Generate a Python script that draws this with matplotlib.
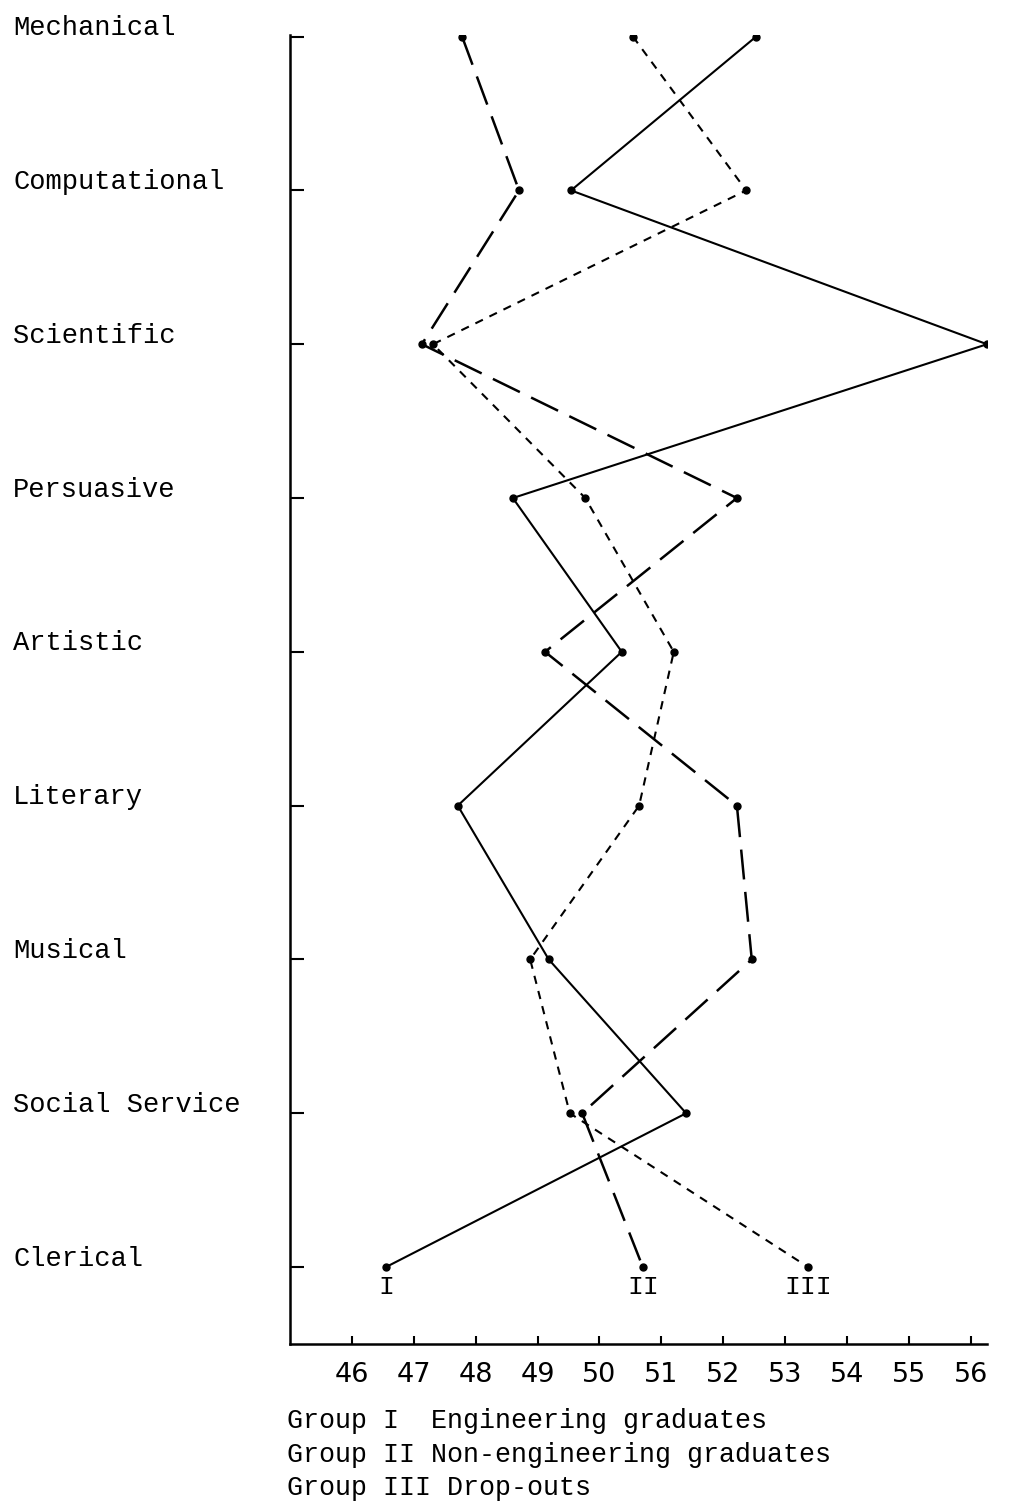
import matplotlib
matplotlib.use("Agg")
import matplotlib.pyplot as plt
from matplotlib.transforms import blended_transform_factory

# interest areas (top to bottom) and mean scores per group
areas = ["Mechanical", "Computational", "Scientific", "Persuasive", "Artistic",
         "Literary", "Musical", "Social Service", "Clerical"]
group1 = [52.53, 49.54, 56.26, 48.60, 50.36, 47.71, 49.18, 51.40, 46.55]
group2 = [47.78, 48.70, 47.13, 52.22, 49.12, 52.22, 52.46, 49.72, 50.70]
group3 = [50.54, 52.37, 47.31, 49.77, 51.20, 50.64, 48.88, 49.52, 53.37]
group_marks = ["I", "II", "III"]
xticks = list(range(46, 57))
legend_lines = ["Group I  Engineering graduates",
                "Group II Non-engineering graduates",
                "Group III Drop-outs"]

mono = "Liberation Mono"

fig = plt.figure(figsize=(10.13, 15.05), dpi=100)
ax = fig.add_axes([0.2863, 0.1070, 0.9743 - 0.2863, 0.9767 - 0.1070])

ypos = list(range(len(areas)))

ax.plot(group1, ypos, color="black", lw=1.5, ls="-",
        marker="o", ms=5)
ax.plot(group2, ypos, color="black", lw=1.8, ls=(0, (12, 5)),
        marker="o", ms=5)
ax.plot(group3, ypos, color="black", lw=1.5, ls=(0, (4, 3.5)),
        marker="o", ms=5)

# roman numerals under the clerical points
for val, lab in zip([group1[-1], group2[-1], group3[-1]], group_marks):
    ax.text(val, ypos[-1] + 0.13, lab, ha="center", va="center",
            fontsize=19, family=mono)

ax.set_xlim(45, 56.26)
ax.set_ylim(8.5, -0.01)

for s in ["top", "right"]:
    ax.spines[s].set_visible(False)
for s in ["left", "bottom"]:
    ax.spines[s].set_linewidth(1.8)

ax.set_xticks(xticks)
ax.set_xticklabels([str(t) for t in xticks], fontsize=19.5,
                   family="DejaVu Sans")
ax.tick_params(axis="x", direction="in", length=6, width=1.5, pad=13)
ax.set_yticks(ypos)
ax.set_yticklabels([])
ax.tick_params(axis="y", direction="in", length=10, width=1.5)

# category labels at the far left
tr = blended_transform_factory(fig.transFigure, ax.transData)
for y, name in zip(ypos, areas):
    ax.text(0.013, y - 0.055, name, transform=tr, ha="left", va="center",
            fontsize=19.5, family=mono, clip_on=False)

# legend text
for i, line in enumerate(legend_lines):
    fig.text(0.283, 1 - (1421 + 33.5 * i) / 1505, line, ha="left",
             va="center", fontsize=19.2, family=mono)

fig.savefig("out.png", dpi=100)
